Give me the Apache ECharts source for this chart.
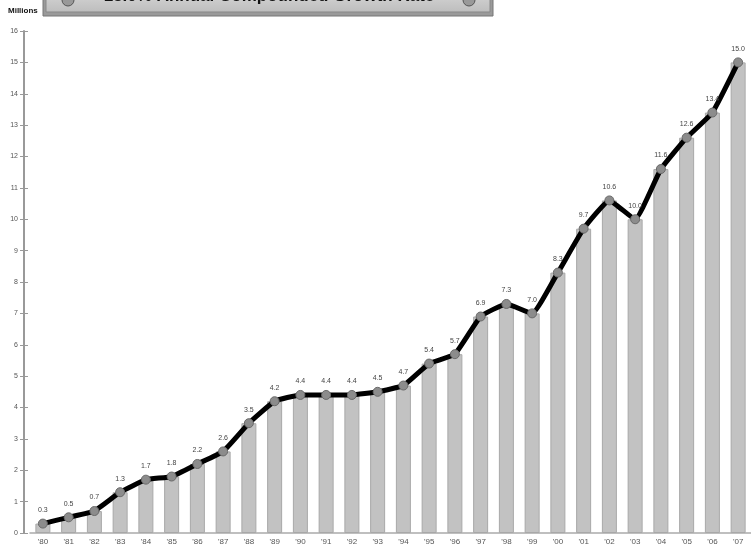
<!DOCTYPE html>
<html><head><meta charset="utf-8">
<script src="https://cdn.jsdelivr.net/npm/echarts@6/dist/echarts.min.js"></script>
<style>html,body{margin:0;padding:0;background:#fff}#c{width:751px;height:548px}</style>
</head><body><div id="c"></div>
<script>
var years = ["'80","'81","'82","'83","'84","'85","'86","'87","'88","'89","'90","'91","'92","'93","'94","'95","'96","'97","'98","'99","'00","'01","'02","'03","'04","'05","'06","'07"];
var values = [0.3,0.5,0.7,1.3,1.7,1.8,2.2,2.6,3.5,4.2,4.4,4.4,4.4,4.5,4.7,5.4,5.7,6.9,7.3,7.0,8.3,9.7,10.6,10.0,11.6,12.6,13.4,15.0];
var yTicks = {min:0, max:16, interval:1};
var titleText = "15.0% Annual Compounded Growth Rate";
var unitText = "Millions";

var chart = echarts.init(document.getElementById('c'));
var yBase = {
  type:'value', min:yTicks.min, max:yTicks.max, interval:yTicks.interval,
  position:'left', offset:6, splitLine:{show:false}
};
chart.setOption({
  animation:false,
  backgroundColor:'#fff',
  textStyle:{fontFamily:'Liberation Sans, Arial, sans-serif'},
  grid:{left:30, right:-12, top:31, bottom:15, containLabel:false},
  xAxis:{
    type:'category', data:years, boundaryGap:true,
    axisLine:{show:true, lineStyle:{color:'#aaa', width:1.5}},
    axisTick:{show:false},
    axisLabel:{color:'#555', fontSize:8, margin:5, interval:0}
  },
  yAxis:[
    Object.assign({}, yBase, {
      axisLine:{show:true, onZero:false, lineStyle:{color:'#999', width:2}},
      axisTick:{show:true, length:4, lineStyle:{color:'#999'}},
      axisLabel:{color:'#555', fontSize:7, margin:6}
    }),
    Object.assign({}, yBase, {
      axisLine:{show:false},
      axisTick:{show:true, inside:true, length:4, lineStyle:{color:'#999'}},
      axisLabel:{show:false}
    })
  ],
  series:[
    {
      type:'bar', data:values, barWidth:15, yAxisIndex:0,
      itemStyle:{color:'#c2c2c2', borderColor:'#a8a8a8', borderWidth:1},
      z:1
    },
    {
      type:'line', data:values, yAxisIndex:0, smooth:0.12,
      lineStyle:{color:'#000', width:5, join:'round', cap:'round'},
      symbol:'circle', symbolSize:9,
      itemStyle:{color:'#8c8c8c', borderColor:'#6a6a6a', borderWidth:1},
      label:{show:true, position:'top', distance:5, fontSize:7, color:'#444',
        formatter:function(p){return p.value.toFixed(1);}},
      z:3
    }
  ],
  graphic:[
    {type:'text', left:8, top:7, style:{text:unitText, font:'bold 8px "Liberation Sans Narrow", "Liberation Sans", Arial', fill:'#111'}},
    {type:'rect', shape:{x:43, y:-10, width:450, height:26},
      style:{fill:'#9a9a9a', stroke:'#777', lineWidth:1}},
    {type:'rect', shape:{x:46, y:-10, width:444, height:22},
      style:{fill:{type:'linear',x:0,y:0,x2:0,y2:1,colorStops:[{offset:0,color:'#d8d8d8'},{offset:1,color:'#bdbdbd'}]}, stroke:'#888', lineWidth:1}},
    {type:'circle', shape:{cx:68, cy:0, r:6}, style:{fill:'#999', stroke:'#555', lineWidth:1}},
    {type:'circle', shape:{cx:469, cy:0, r:6}, style:{fill:'#999', stroke:'#555', lineWidth:1}},
    {type:'text', x:269, y:-3.5, style:{text:titleText, font:'bold 17px "Liberation Sans", Arial', fill:'#111', textAlign:'center', textVerticalAlign:'middle'}}
  ]
});
</script></body></html>
